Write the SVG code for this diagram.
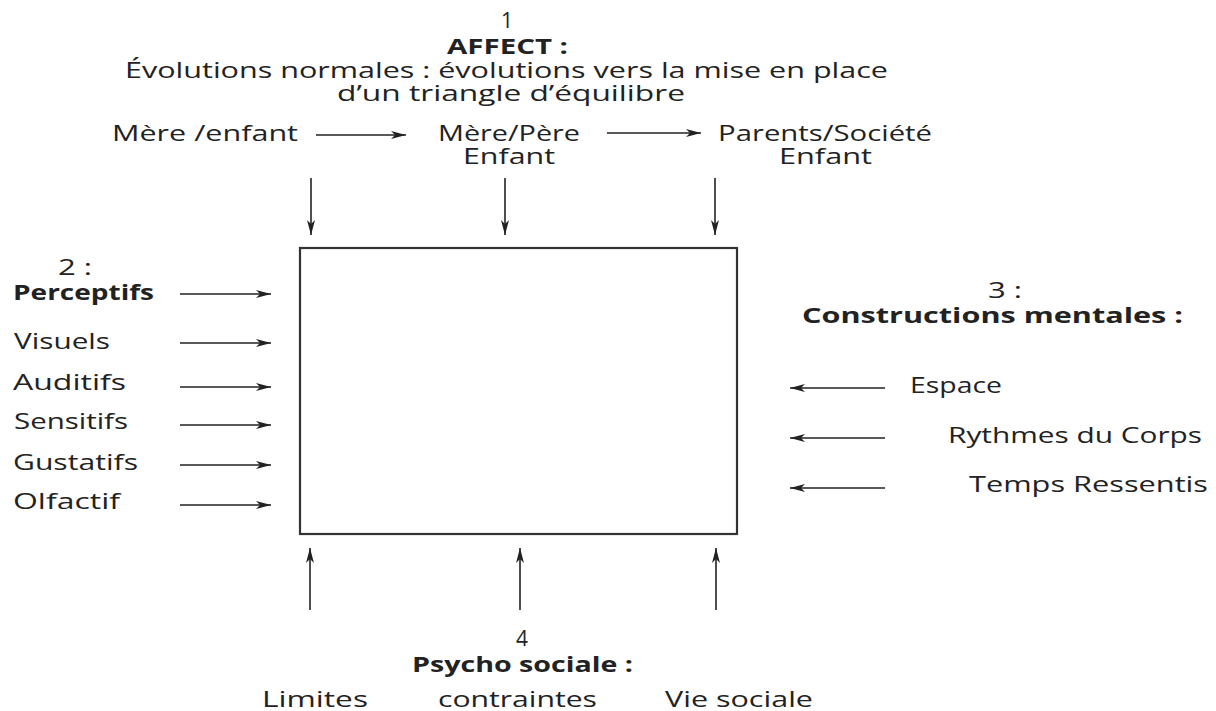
<svg xmlns="http://www.w3.org/2000/svg" width="1216" height="711" viewBox="0 0 1216 711">
  <style>
    .t { font-family: "Open Sans", "Noto Sans", "DejaVu Sans", sans-serif; font-size: 21px; fill: #222; }
    .b { font-weight: bold; }
    .m { text-anchor: middle; }
    .ln { stroke: #222; stroke-width: 1.6; fill: none; marker-end: url(#head); }
    .box { fill: #fff; stroke: #333; stroke-width: 2.2; }
  </style>
  <defs>
    <marker id="head" markerUnits="userSpaceOnUse" markerWidth="16" markerHeight="10" viewBox="0 0 16 10" refX="15" refY="5" orient="auto">
      <path d="M0,1 L15,5 L0,9 L4,5 z" fill="#222"/>
    </marker>
  </defs>

  <rect width="1216" height="711" fill="#fff"/>

  <!-- central box -->
  <g id="centre">
    <rect class="box" x="300" y="248" width="437" height="286"/>
  </g>

  <!-- 1: affect -->
  <g id="affect">
    <text class="t m" x="507" y="28">1</text>
    <text class="t b" x="447" y="54" textLength="121" lengthAdjust="spacingAndGlyphs">AFFECT :</text>
    <text class="t" x="125" y="78" textLength="763" lengthAdjust="spacingAndGlyphs">Évolutions normales : évolutions vers la mise en place</text>
    <text class="t" x="337" y="101" textLength="348" lengthAdjust="spacingAndGlyphs">d’un triangle d’équilibre</text>
  </g>
  <g id="mere-enfant">
    <text class="t" x="112" y="141" textLength="186" lengthAdjust="spacingAndGlyphs">Mère /enfant</text>
  </g>
  <g id="mere-pere-enfant">
    <text class="t" x="438" y="141" textLength="142" lengthAdjust="spacingAndGlyphs">Mère/Père</text>
    <text class="t" x="463" y="164" textLength="92" lengthAdjust="spacingAndGlyphs">Enfant</text>
  </g>
  <g id="parents-societe-enfant">
    <text class="t" x="718" y="141" textLength="214" lengthAdjust="spacingAndGlyphs">Parents/Société</text>
    <text class="t" x="779" y="164" textLength="93" lengthAdjust="spacingAndGlyphs">Enfant</text>
  </g>

  <!-- 2: perceptifs -->
  <g id="perceptifs">
    <text class="t" x="58" y="275" textLength="34" lengthAdjust="spacingAndGlyphs">2 :</text>
    <text class="t b" x="13" y="300" textLength="141" lengthAdjust="spacingAndGlyphs">Perceptifs</text>
  </g>
  <g id="visuels"><text class="t" x="14" y="349" textLength="96" lengthAdjust="spacingAndGlyphs">Visuels</text></g>
  <g id="auditifs"><text class="t" x="13" y="390" textLength="113" lengthAdjust="spacingAndGlyphs">Auditifs</text></g>
  <g id="sensitifs"><text class="t" x="14" y="429" textLength="114" lengthAdjust="spacingAndGlyphs">Sensitifs</text></g>
  <g id="gustatifs"><text class="t" x="13" y="470" textLength="125" lengthAdjust="spacingAndGlyphs">Gustatifs</text></g>
  <g id="olfactif"><text class="t" x="13" y="509" textLength="107" lengthAdjust="spacingAndGlyphs">Olfactif</text></g>

  <!-- 3: constructions mentales -->
  <g id="constructions">
    <text class="t" x="988" y="298" textLength="34" lengthAdjust="spacingAndGlyphs">3 :</text>
    <text class="t b" x="802" y="323" textLength="381" lengthAdjust="spacingAndGlyphs">Constructions mentales :</text>
  </g>
  <g id="espace"><text class="t" x="910" y="393" textLength="92" lengthAdjust="spacingAndGlyphs">Espace</text></g>
  <g id="rythmes"><text class="t" x="948" y="443" textLength="254" lengthAdjust="spacingAndGlyphs">Rythmes du Corps</text></g>
  <g id="temps"><text class="t" x="969" y="492" textLength="239" lengthAdjust="spacingAndGlyphs">Temps Ressentis</text></g>

  <!-- 4: psycho sociale -->
  <g id="psycho-sociale">
    <text class="t m" x="522" y="646">4</text>
    <text class="t b" x="412" y="672" textLength="221" lengthAdjust="spacingAndGlyphs">Psycho sociale :</text>
  </g>
  <g id="limites"><text class="t" x="262" y="707" textLength="106" lengthAdjust="spacingAndGlyphs">Limites</text></g>
  <g id="contraintes"><text class="t" x="438" y="707" textLength="159" lengthAdjust="spacingAndGlyphs">contraintes</text></g>
  <g id="vie-sociale"><text class="t" x="665" y="707" textLength="148" lengthAdjust="spacingAndGlyphs">Vie sociale</text></g>

  <!-- connectors -->
  <g id="connectors">
    <line class="ln" x1="316" y1="135" x2="406" y2="135"/>
    <line class="ln" x1="607" y1="133" x2="701" y2="133"/>

    <line class="ln" x1="311" y1="178" x2="311" y2="235"/>
    <line class="ln" x1="505" y1="178" x2="505" y2="235"/>
    <line class="ln" x1="715" y1="178" x2="715" y2="235"/>

    <line class="ln" x1="180" y1="294" x2="271" y2="294"/>
    <line class="ln" x1="180" y1="343" x2="271" y2="343"/>
    <line class="ln" x1="180" y1="387" x2="271" y2="387"/>
    <line class="ln" x1="180" y1="425" x2="271" y2="425"/>
    <line class="ln" x1="180" y1="465" x2="271" y2="465"/>
    <line class="ln" x1="180" y1="505" x2="271" y2="505"/>

    <line class="ln" x1="885" y1="388" x2="790" y2="388"/>
    <line class="ln" x1="885" y1="438" x2="790" y2="438"/>
    <line class="ln" x1="885" y1="488" x2="790" y2="488"/>

    <line class="ln" x1="310" y1="610" x2="310" y2="548"/>
    <line class="ln" x1="520" y1="610" x2="520" y2="548"/>
    <line class="ln" x1="716" y1="610" x2="716" y2="548"/>
  </g>
</svg>
